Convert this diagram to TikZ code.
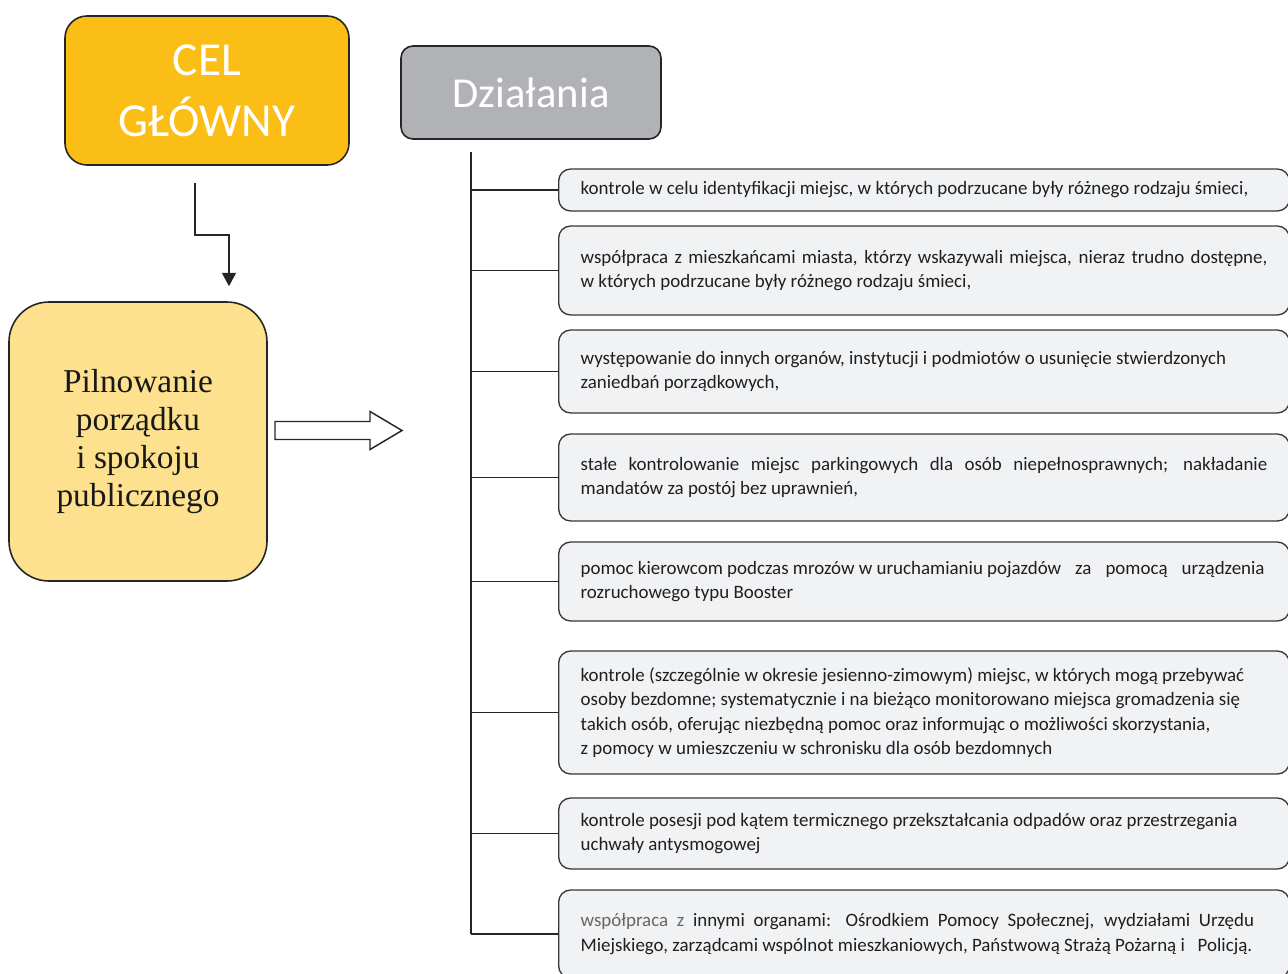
\documentclass[tikz,border=0pt]{standalone}
\usepackage{fontspec}
\setmainfont{Carlito}
\newfontfamily\timesfont{Liberation Serif}
\usetikzlibrary{arrows.meta}

\definecolor{celyellow}{RGB}{251,190,22}
\definecolor{pilyellow}{RGB}{253,225,143}
\definecolor{dzgray}{RGB}{177,178,181}
\definecolor{actgray}{RGB}{241,242,244}
\definecolor{actline}{RGB}{55,55,57}

\newcommand{\jline}[2][515pt]{{\spaceskip=0pt\xspaceskip=0pt\makebox[#1][s]{#2}}}

\begin{document}
\begin{tikzpicture}[x=0.75pt,y=-0.75pt]
  \useasboundingbox (0,0) rectangle (1288,974);

  % stili
  \tikzset{cel/.style={draw=black!85, line width=1.2pt, fill=celyellow, rounded corners=16.5pt,
      minimum width=213pt, minimum height=111.75pt, align=center, text=white,
      font=\fontsize{35.5}{46}\selectfont}}
  \tikzset{dz/.style={draw=black!85, line width=1.2pt, fill=dzgray, rounded corners=9pt,
      minimum width=195pt, minimum height=69.75pt, text=white,
      font=\fontsize{32}{38}\selectfont}}
  \tikzset{pil/.style={draw=black!85, line width=1.2pt, fill=pilyellow, rounded corners=30pt,
      minimum width=193.5pt, minimum height=209.25pt, align=center, text=black!90,
      font=\timesfont\fontsize{25}{28.7}\selectfont}}
  \tikzset{act/.style={draw=actline, line width=1pt, fill=actgray, rounded corners=9pt,
      anchor=west, text width=515pt, inner xsep=16.5pt, align=justify, text=black!88,
      font=\fontsize{14.2}{18.4}\selectfont}}
  \tikzset{arc/.style={black!85, line width=1.1pt}}

  % def cel, dzialania
  \node[cel] (cel) at (207,90.5) {CEL\\GŁÓWNY};
  \node[dz] (dz) at (531,92.5) {Działania};
  \node[pil] (pil) at (138,441.5) {Pilnowanie\\porządku\\i spokoju\\publicznego};

  % def działania
  \node[act, minimum height=31.5pt] (a1) at (558,190)
    {kontrole w celu identyfikacji miejsc, w których podrzucane były różnego rodzaju śmieci,};
  \node[act, minimum height=66.75pt] (a2) at (558,270.5)
    {\jline{współpraca z mieszkańcami miasta, którzy wskazywali miejsca, nieraz trudno dostępne,}\\
     w których podrzucane były różnego rodzaju śmieci,};
  \node[act, minimum height=62.25pt] (a3) at (558,371.5)
    {występowanie do innych organów, instytucji i podmiotów o usunięcie stwierdzonych\\
     zaniedbań porządkowych,};
  \node[act, minimum height=65.25pt] (a4) at (558,477.5)
    {\jline{stałe kontrolowanie miejsc parkingowych dla osób niepełnosprawnych; nakładanie}\\
     mandatów za postój bez uprawnień,};
  \node[act, minimum height=59.25pt] (a5) at (558,581.5)
    {\makebox[513pt][l]{pomoc kierowcom podczas mrozów w uruchamianiu pojazdów\hfill\ za\hfill\ pomocą\hfill\ urządzenia}\\
     rozruchowego typu Booster};
  \node[act, minimum height=92.25pt] (a6) at (558,712.5)
    {kontrole (szczególnie w okresie jesienno-zimowym) miejsc, w których mogą przebywać\\
     osoby bezdomne; systematycznie i na bieżąco monitorowano miejsca gromadzenia się\\
     takich osób, oferując niezbędną pomoc oraz informując o możliwości skorzystania,\\
     z pomocy w umieszczeniu w schronisku dla osób bezdomnych};
  \node[act, minimum height=53.25pt] (a7) at (558,833.5)
    {kontrole posesji pod kątem termicznego przekształcania odpadów oraz przestrzegania\\
     uchwały antysmogowej};
  \node[act, minimum height=66pt] (a8) at (558,934)
    {\jline[505pt]{\textcolor{black!60}{współpraca z} innymi organami: Ośrodkiem Pomocy Społecznej, wydziałami Urzędu}\\
     Miejskiego, zarządcami wspólnot mieszkaniowych, Państwową Strażą Pożarną i\ \ \ Policją.};

  % def linee
  \coordinate (tr) at (471,152);
  \coordinate (e1) at (195,183);
  \coordinate (e2) at (229,235);

  % freccia cel
  \draw[arc, -{Triangle[width=10.5pt,length=10pt]}, shorten >=11.25pt]
    (e1) -- (e1 |- e2) -- (e2) -- (e2 |- pil.north);

  % freccia vuota
  \coordinate (h) at (275,431);
  \draw[arc, fill=white] (h) ++(0,-9.5) -- ++(95,0) -- ++(0,-10) -- ++(32,19)
    -- ++(-32,19) -- ++(0,-10) -- ++(-95,0) -- cycle;

  % linea verticale
  \draw[arc] (tr) -- (tr |- a8.west);

  % rami
  \draw[arc] (a1.west) -- (a1.west -| tr);
  \draw[arc] (a2.west) -- (a2.west -| tr);
  \draw[arc] (a3.west) -- (a3.west -| tr);
  \draw[arc] (a4.west) -- (a4.west -| tr);
  \draw[arc] (a5.west) -- (a5.west -| tr);
  \draw[arc] (a6.west) -- (a6.west -| tr);
  \draw[arc] (a7.west) -- (a7.west -| tr);
  \draw[arc] (a8.west) -- (a8.west -| tr);

\end{tikzpicture}
\end{document}
